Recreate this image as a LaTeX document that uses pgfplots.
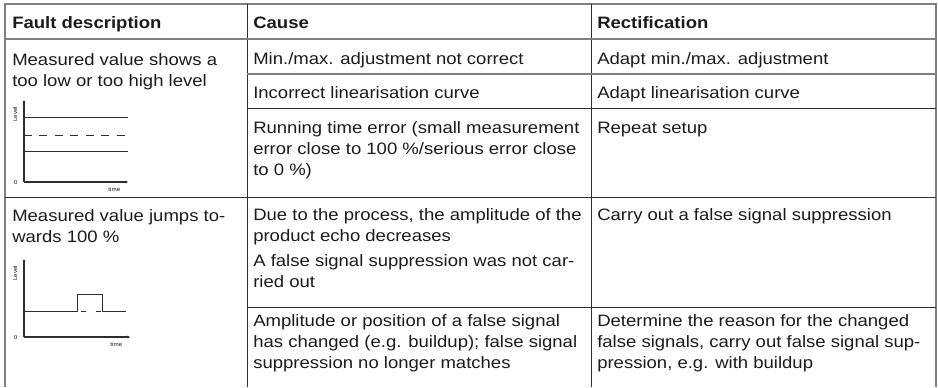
\documentclass[border=0pt]{standalone}
\usepackage{pgfplots}
\pgfplotsset{compat=1.18}
\usetikzlibrary{arrows.meta}
\usepackage{fontspec}
\setmainfont{Liberation Sans}[FakeStretch=1.12]
\definecolor{txt}{HTML}{1C1A1B}
\definecolor{rulegray}{HTML}{808080}
\definecolor{dark}{HTML}{2E2E2E}
\begin{document}
\begin{tikzpicture}[x=0.75pt,y=0.75pt]
\path[use as bounding box] (0,0) rectangle (938,-387);
\tikzset{cell/.style={anchor=base west,inner sep=0pt,font=\fontsize{12.4}{15.75}\selectfont,text=txt},
         hcell/.style={cell,font=\fontsize{12.4}{15.75}\selectfont\bfseries}}
\coordinate (o1) at (24,-182);
\coordinate (o2) at (24,-337);
% ---------- rules ----------
\draw[rulegray,line width=1.1pt] (5,-387) -- (5,-4) -- (936,-4) -- (936,-387);
\draw[dark,line width=0.75pt] (247,-4) -- (247,-387);
\draw[dark,line width=0.75pt] (591,-4) -- (591,-387);
\draw[rulegray,line width=1.5pt] (5,-39) -- (936,-39);
\draw[rulegray,line width=0.8pt] (247,-74) -- (936,-74);
\draw[dark,line width=0.75pt] (247,-108.3) -- (936,-108.3);
\draw[dark,line width=0.8pt] (5,-197.5) -- (936,-197.5);
\draw[dark,line width=0.75pt] (247,-307) -- (936,-307);
% ---------- header ----------
\node[hcell] at (12,-28.3) {Fault description};
\node[hcell] at (253,-28.3) {Cause};
\node[hcell] at (597,-28.3) {Rectification};
% ---------- column 1 ----------
\node[cell] at (12,-65) {Measured value shows a};
\node[cell] at (12,-86) {too low or too high level};
\node[cell] at (12,-221) {Measured value jumps to-};
\node[cell] at (12,-242) {wards 100 \%};
% ---------- column 2 ----------
\node[cell] at (253,-64) {Min./max. adjustment not correct};
\node[cell] at (253,-98) {Incorrect linearisation curve};
\node[cell] at (253,-133.3) {Running time error (small measurement};
\node[cell] at (253,-154.3) {error close to 100 \%/serious error close};
\node[cell] at (253,-175.3) {to 0 \%)};
\node[cell] at (253,-220.7) {Due to the process, the amplitude of the};
\node[cell] at (253,-241.7) {product echo decreases};
\node[cell] at (253,-266.7) {A false signal suppression was not car-};
\node[cell] at (253,-287.5) {ried out};
\node[cell] at (253,-326.7) {Amplitude or position of a false signal};
\node[cell] at (253,-347.7) {has changed (e.g. buildup); false signal};
\node[cell] at (253,-368.7) {suppression no longer matches};
% ---------- column 3 ----------
\node[cell] at (597,-64) {Adapt min./max. adjustment};
\node[cell] at (597,-98) {Adapt linearisation curve};
\node[cell] at (597,-133.3) {Repeat setup};
\node[cell] at (597,-220.7) {Carry out a false signal suppression};
\node[cell] at (597,-326.7) {Determine the reason for the changed};
\node[cell] at (597,-347.7) {false signals, carry out false signal sup-};
\node[cell] at (597,-368.7) {pression, e.g. with buildup};
% ---------- mini chart 1 ----------
\begin{axis}[at={(o1)},anchor=origin,scale only axis,
  width=78pt,height=61.5pt,xmin=0,xmax=104,ymin=0,ymax=82,
  axis lines=left,axis line style={dark,line width=0.8pt,-{Stealth[length=2pt,width=2pt]}},
  xtick=\empty,ytick=\empty,clip=false]
\addplot[dark,line width=0.7pt] coordinates {(0,65) (104,65)};
\addplot[dark,line width=0.7pt,dash pattern=on 6pt off 5.6pt] coordinates {(0,47) (104,47)};
\addplot[dark,line width=0.7pt] coordinates {(0,31) (104,31)};
\node[anchor=east,font=\fontsize{4.2}{5}\selectfont,text=txt] at (axis cs:-2,-1) {0};
\node[anchor=north east,font=\fontsize{4.2}{5}\selectfont,text=txt] at (axis cs:101,-0.5) {time};
\node[anchor=south east,rotate=90,font=\fontsize{4.2}{5}\selectfont,text=txt] at (axis cs:-2,80) {Level};
\end{axis}
% ---------- mini chart 2 ----------
\begin{axis}[at={(o2)},anchor=origin,scale only axis,
  width=79.5pt,height=58.5pt,xmin=0,xmax=106,ymin=0,ymax=78,
  axis lines=left,axis line style={dark,line width=0.8pt,-{Stealth[length=2pt,width=2pt]}},
  xtick=\empty,ytick=\empty,clip=false]
\addplot[dark,line width=0.7pt] coordinates {(0,26) (53,26) (53,43) (78,43) (78,26) (102,26)};
\addplot[dark,line width=0.7pt,dash pattern=on 3.75pt off 7.5pt,dash phase=8.25pt] coordinates {(53,26) (78,26)};
\node[anchor=east,font=\fontsize{4.2}{5}\selectfont,text=txt] at (axis cs:-2,-1) {0};
\node[anchor=north east,font=\fontsize{4.2}{5}\selectfont,text=txt] at (axis cs:103,-0.5) {time};
\node[anchor=south east,rotate=90,font=\fontsize{4.2}{5}\selectfont,text=txt] at (axis cs:-2,76) {Level};
\end{axis}
\end{tikzpicture}
\end{document}
